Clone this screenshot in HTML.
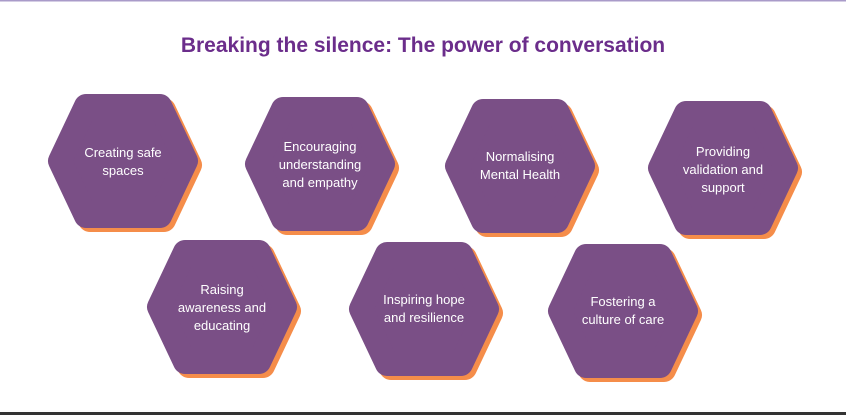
<!DOCTYPE html>
<html><head><style>
html,body{margin:0;padding:0;background:#fff;}
body{width:846px;height:415px;overflow:hidden;position:relative;font-family:"Liberation Sans",sans-serif;}
</style></head><body>
<svg width="846" height="415" xmlns="http://www.w3.org/2000/svg" style="position:absolute;left:0;top:0">
<defs>
<g id="hx"><polygon points="-63,0 -37,-55 37,-55 63,0 37,55 -37,55" stroke-linejoin="round" stroke-width="24"/></g>
</defs>
<rect x="0" y="0" width="846" height="1.5" fill="#a99bc9"/>
<rect x="0" y="412" width="846" height="3" fill="#333"/>
<text x="423" y="52" text-anchor="middle" font-size="21" font-weight="bold" fill="#6b2d8b" font-family="Liberation Sans, sans-serif">Breaking the silence: The power of conversation</text>
<g font-size="13" fill="#fff" text-anchor="middle" font-family="Liberation Sans, sans-serif">
<g transform="translate(123,161)"><use href="#hx" x="4" y="4" fill="#f58d4a" stroke="#f58d4a"/><use href="#hx" fill="#7a4f86" stroke="#7a4f86"/><text y="-4">Creating safe</text><text y="14">spaces</text></g>
<g transform="translate(320,164)"><use href="#hx" x="4" y="4" fill="#f58d4a" stroke="#f58d4a"/><use href="#hx" fill="#7a4f86" stroke="#7a4f86"/><text y="-13">Encouraging</text><text y="5">understanding</text><text y="23">and empathy</text></g>
<g transform="translate(520,166)"><use href="#hx" x="4" y="4" fill="#f58d4a" stroke="#f58d4a"/><use href="#hx" fill="#7a4f86" stroke="#7a4f86"/><text y="-5">Normalising</text><text y="13">Mental Health</text></g>
<g transform="translate(723,168)"><use href="#hx" x="4" y="4" fill="#f58d4a" stroke="#f58d4a"/><use href="#hx" fill="#7a4f86" stroke="#7a4f86"/><text y="-12">Providing</text><text y="6">validation and</text><text y="24">support</text></g>
<g transform="translate(222,307)"><use href="#hx" x="4" y="4" fill="#f58d4a" stroke="#f58d4a"/><use href="#hx" fill="#7a4f86" stroke="#7a4f86"/><text y="-13">Raising</text><text y="5">awareness and</text><text y="23">educating</text></g>
<g transform="translate(424,309)"><use href="#hx" x="4" y="4" fill="#f58d4a" stroke="#f58d4a"/><use href="#hx" fill="#7a4f86" stroke="#7a4f86"/><text y="-5">Inspiring hope</text><text y="13">and resilience</text></g>
<g transform="translate(623,311)"><use href="#hx" x="4" y="4" fill="#f58d4a" stroke="#f58d4a"/><use href="#hx" fill="#7a4f86" stroke="#7a4f86"/><text y="-5">Fostering a</text><text y="13">culture of care</text></g>
</g>
</svg>
</body></html>
